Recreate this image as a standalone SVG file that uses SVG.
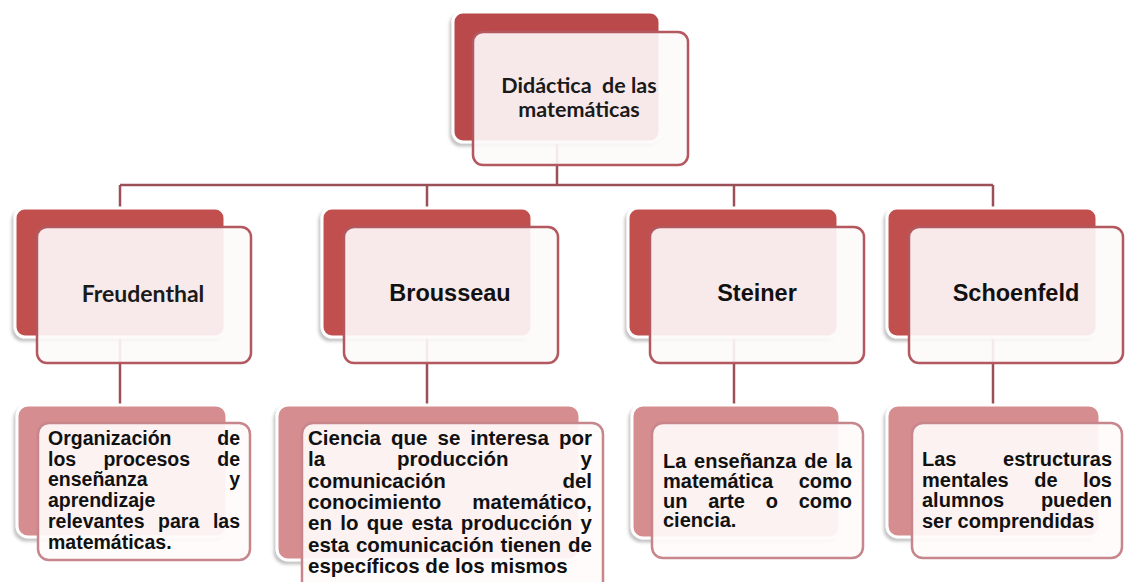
<svg xmlns="http://www.w3.org/2000/svg" width="1126" height="582" viewBox="0 0 1126 582">
<defs>
<filter id="sh" x="-10%" y="-10%" width="120%" height="130%"><feDropShadow dx="-2" dy="3" stdDeviation="1.5" flood-color="#7a7a7a" flood-opacity="0.45"/></filter>
</defs>
<style>
.bk{fill:#c0504d;stroke:#ffffff;stroke-width:3;filter:url(#sh)}
.bkt{fill:#ba484b;stroke:#ffffff;stroke-width:3;filter:url(#sh)}
.fr{fill:#fdf9f9;fill-opacity:0.91;stroke:#b3585f;stroke-width:2.5}
.bb{fill:#d58d8f;stroke:#ffffff;stroke-width:3;filter:url(#sh)}
.bf{fill:#fffbfb;fill-opacity:0.92;stroke:#c7868c;stroke-width:2.5}
.cn{stroke:#9b4f57;stroke-width:2.5;fill:none}
.cal{font-family:Lato,"Open Sans","Liberation Sans",sans-serif;font-weight:700;fill:#1a1a1a;text-anchor:middle}
.ar{font-family:"Liberation Sans",Arial,sans-serif;font-weight:700;fill:#111111;text-anchor:middle;font-size:23.5px}
.tx{font-family:"Liberation Sans",Arial,sans-serif;font-weight:700;fill:#111111;font-size:20px}
.e{text-anchor:end}
</style>
<g id="connectors">
<path class="cn" d="M557 140 V185 M120 185 H993 M120 185 V208 M427 185 V208 M734 185 V208 M993 185 V208 M120 335 V405 M427 335 V405 M734 335 V405 M993 335 V405"/>
</g>
<g id="node-top">
<rect class="bkt" x="453" y="12" width="207" height="130" rx="10"/>
<rect class="fr" x="473" y="32" width="215" height="133" rx="10"/>
<text class="cal" x="579" y="93" font-size="21.5" xml:space="preserve">Didáctica  de las</text>
<text class="cal" x="579" y="117" font-size="21.5">matemáticas</text>
</g>
<g id="node-freudenthal">
<rect class="bk" x="15" y="208" width="210" height="129" rx="10"/>
<rect class="fr" x="37" y="227" width="214" height="136" rx="10"/>
<text class="cal" x="143" y="302" font-size="23">Freudenthal</text>
</g>
<g id="node-brousseau">
<rect class="bk" x="322" y="208" width="210" height="129" rx="10"/>
<rect class="fr" x="344" y="227" width="214" height="136" rx="10"/>
<text class="ar" x="450" y="301">Brousseau</text>
</g>
<g id="node-steiner">
<rect class="bk" x="628" y="208" width="210" height="129" rx="10"/>
<rect class="fr" x="650" y="227" width="214" height="136" rx="10"/>
<text class="ar" x="757" y="301">Steiner</text>
</g>
<g id="node-schoenfeld">
<rect class="bk" x="887" y="208" width="210" height="129" rx="10"/>
<rect class="fr" x="909" y="227" width="214" height="136" rx="10"/>
<text class="ar" x="1016" y="301">Schoenfeld</text>
</g>
<g id="desc-freudenthal">
<rect class="bb" x="17" y="405" width="210" height="132" rx="11"/>
<rect class="bf" x="38" y="423" width="212" height="137" rx="11"/>
<g class="tx" style="font-size:19.5px">
<text x="48" y="445">Organización</text><text class="e" x="240" y="445">de</text>
<text x="48" y="465.7">los</text><text x="103.4" y="465.7">procesos</text><text class="e" x="240" y="465.7">de</text>
<text x="48" y="486.4">enseñanza</text><text class="e" x="240" y="486.4">y</text>
<text x="48" y="507.1">aprendizaje</text>
<text x="48" y="527.8">relevantes</text><text x="158.1" y="527.8">para</text><text class="e" x="240" y="527.8">las</text>
<text x="48" y="548.5">matemáticas.</text>
</g>
</g>
<g id="desc-brousseau">
<rect class="bb" x="277" y="405" width="303" height="155" rx="11"/>
<rect class="bf" x="302" y="423" width="301" height="180" rx="11"/>
<g class="tx" style="font-size:20.5px">
<text x="308" y="445">Ciencia</text><text x="391" y="445">que</text><text x="437.5" y="445">se</text><text x="470.3" y="445">interesa</text><text class="e" x="592" y="445">por</text>
<text x="308" y="466.3">la</text><text x="397" y="466.3">producción</text><text class="e" x="592" y="466.3">y</text>
<text x="308" y="487.6">comunicación</text><text class="e" x="592" y="487.6">del</text>
<text x="308" y="508.9">conocimiento</text><text class="e" x="592" y="508.9">matemático,</text>
<text x="308" y="530.2">en</text><text x="340.2" y="530.2">lo</text><text x="366.7" y="530.2">que</text><text x="411.4" y="530.2">esta</text><text x="460.7" y="530.2">producción</text><text class="e" x="592" y="530.2">y</text>
<text x="308" y="551.5">esta</text><text x="355.9" y="551.5">comunicación</text><text x="500.6" y="551.5">tienen</text><text class="e" x="592" y="551.5">de</text>
<text x="308" y="572.8">específicos de los mismos</text>
</g>
</g>
<g id="desc-steiner">
<rect class="bb" x="632" y="405" width="208" height="133" rx="11"/>
<rect class="bf" x="652" y="423" width="211" height="135" rx="11"/>
<g class="tx">
<text x="663" y="468">La</text><text x="694.1" y="468">enseñanza</text><text x="804.2" y="468">de</text><text class="e" x="852" y="468">la</text>
<text x="663" y="487.8">matemática</text><text class="e" x="852" y="487.8">como</text>
<text x="663" y="507.6">un</text><text x="708.2" y="507.6">arte</text><text x="765.7" y="507.6">o</text><text class="e" x="852" y="507.6">como</text>
<text x="663" y="527.4">ciencia.</text>
</g>
</g>
<g id="desc-schoenfeld">
<rect class="bb" x="887" y="405" width="213" height="132" rx="11"/>
<rect class="bf" x="912" y="423" width="210" height="135" rx="11"/>
<g class="tx">
<text x="922" y="466">Las</text><text class="e" x="1112" y="466">estructuras</text>
<text x="922" y="486.5">mentales</text><text x="1034.2" y="486.5">de</text><text class="e" x="1112" y="486.5">los</text>
<text x="922" y="507">alumnos</text><text class="e" x="1112" y="507">pueden</text>
<text x="922" y="527.5">ser comprendidas</text>
</g>
</g>
</svg>
